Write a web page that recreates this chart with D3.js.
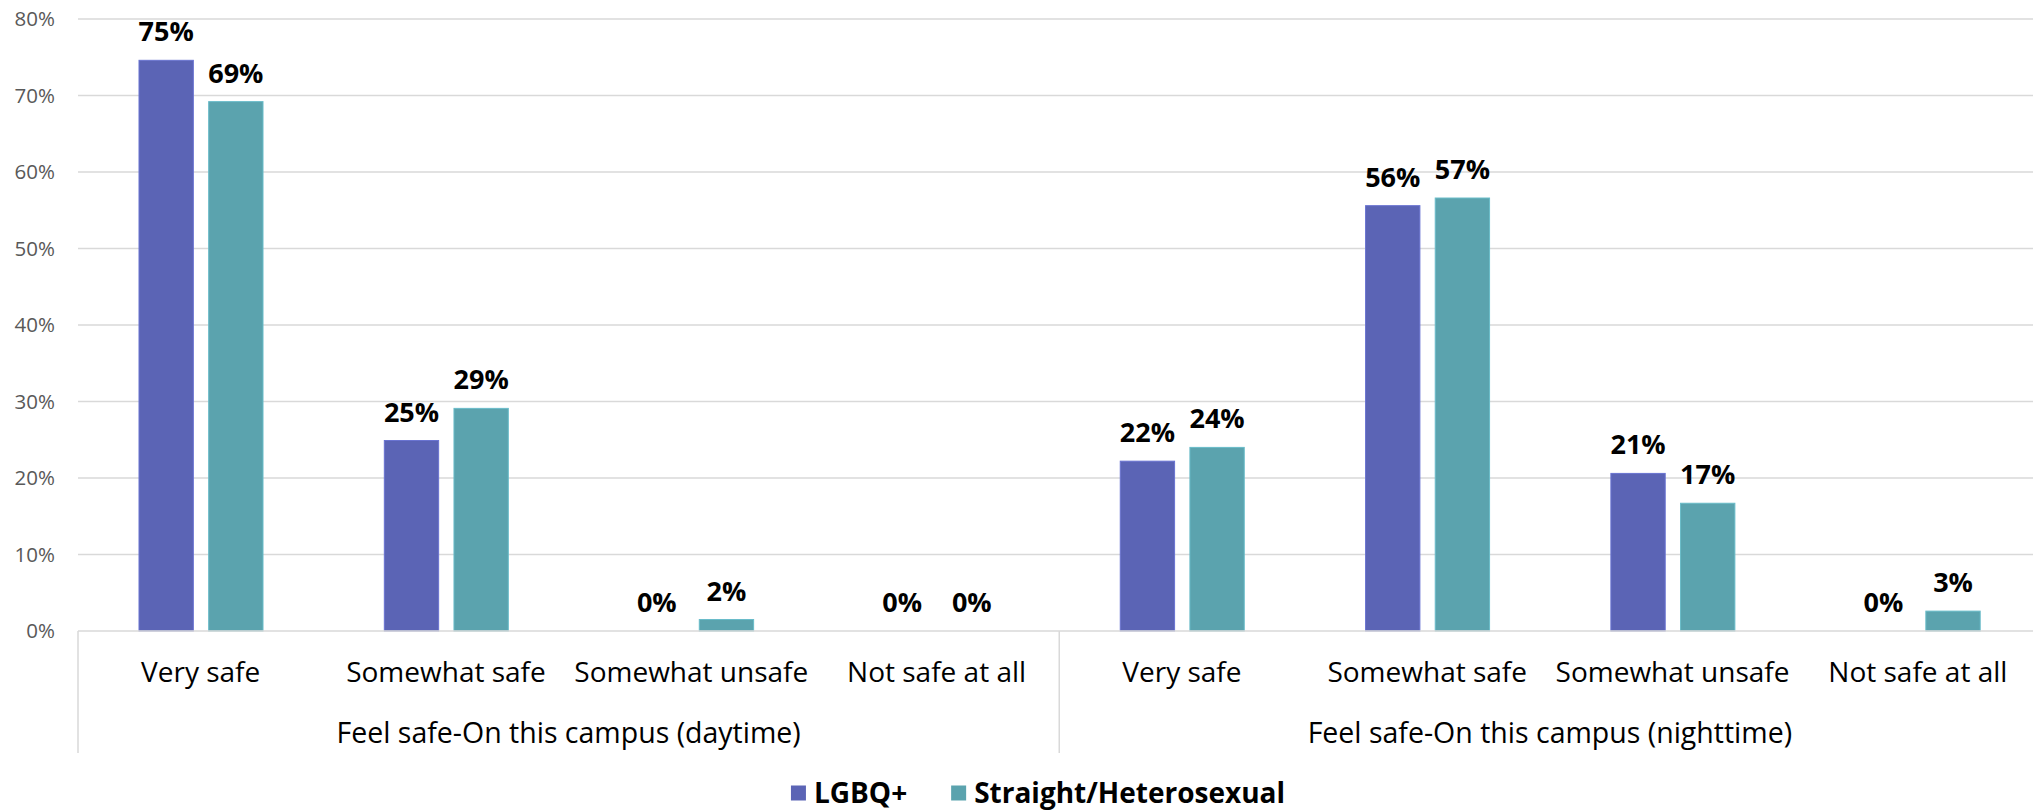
<!DOCTYPE html>
<html>
<head>
<meta charset="utf-8">
<script src="https://cdn.jsdelivr.net/npm/d3@7"></script>
<style>
  html, body { margin: 0; padding: 0; background: #fff; }
  svg { display: block; font-family: "Open Sans", sans-serif; }
</style>
</head>
<body>
<svg id="chart" width="2033" height="812"></svg>
<script>
// ---- data ----
const categories = ["Very safe", "Somewhat safe", "Somewhat unsafe", "Not safe at all",
                    "Very safe", "Somewhat safe", "Somewhat unsafe", "Not safe at all"];
const groups = ["Feel safe-On this campus (daytime)", "Feel safe-On this campus (nighttime)"];
const seriesNames = ["LGBQ+", "Straight/Heterosexual"];
const lgbqValues = [74.6, 24.9, 0, 0, 22.2, 55.6, 20.6, 0];
const straightValues = [69.2, 29.1, 1.5, 0, 24.0, 56.6, 16.7, 2.6];
const yTicks = [0, 10, 20, 30, 40, 50, 60, 70, 80];
const colors = ["#5B64B5", "#5BA3AE"];

// ---- layout ----
const svg = d3.select("#chart");
const plotLeft = 78, plotRight = 2040.5, plotTop = 19, plotBottom = 631;

const x = d3.scaleBand().domain(d3.range(categories.length)).range([plotLeft, plotRight]).padding(0);
const xInner = d3.scaleBand().domain(seriesNames).range([61, 185]).paddingInner(0.22);
const y = d3.scaleLinear().domain([0, 80]).range([plotBottom, plotTop]);

// gridlines
svg.append("g")
  .selectAll("line")
  .data(yTicks.filter(d => d > 0))
  .join("line")
  .attr("x1", plotLeft).attr("x2", 2033)
  .attr("y1", d => y(d)).attr("y2", d => y(d))
  .attr("stroke", "#d9d9d9").attr("stroke-width", 1.5);

// y axis labels
const yAxis = d3.axisLeft(y).tickValues(yTicks).tickFormat(d => d + "%").tickSize(0).tickPadding(0);
const yg = svg.append("g").attr("transform", `translate(55,0)`).call(yAxis);
yg.select(".domain").remove();
yg.selectAll("text")
  .attr("font-family", "Open Sans, sans-serif")
  .attr("font-size", 20.5)
  .attr("fill", "#595959");

// bars
const series = [lgbqValues, straightValues];
series.forEach((vals, si) => {
  const g = svg.append("g");
  g.selectAll("rect")
    .data(vals)
    .join("rect")
    .attr("x", (d, i) => x(i) + xInner(seriesNames[si]))
    .attr("width", xInner.bandwidth())
    .attr("y", d => y(d))
    .attr("height", d => plotBottom - y(d))
    .attr("fill", colors[si])
    .attr("stroke", d3.color(colors[si]).brighter(0.4))
    .attr("stroke-width", 1);
  g.selectAll("text")
    .data(vals)
    .join("text")
    .attr("x", (d, i) => x(i) + xInner(seriesNames[si]) + xInner.bandwidth() / 2)
    .attr("y", d => y(d) - 19)
    .attr("text-anchor", "middle")
    .attr("font-weight", "bold")
    .attr("font-size", 27)
    .attr("fill", "#000")
    .text(d => Math.round(d) + "%");
});

// x axis baseline
svg.append("line")
  .attr("x1", plotLeft).attr("x2", 2033)
  .attr("y1", plotBottom).attr("y2", plotBottom)
  .attr("stroke", "#d9d9d9").attr("stroke-width", 1.5);

// group separators
const sepIdx = [0, 4, 8];
svg.append("g").selectAll("line")
  .data(sepIdx)
  .join("line")
  .attr("x1", d => d < 8 ? x(d) : plotRight).attr("x2", d => d < 8 ? x(d) : plotRight)
  .attr("y1", plotBottom).attr("y2", 753)
  .attr("stroke", "#d9d9d9").attr("stroke-width", 1.5);

// category labels
svg.append("g").selectAll("text")
  .data(categories)
  .join("text")
  .attr("x", (d, i) => x(i) + x.bandwidth() / 2)
  .attr("y", 672)
  .attr("dy", "0.35em")
  .attr("text-anchor", "middle")
  .attr("font-size", 28)
  .attr("fill", "#000")
  .text(d => d);

// group labels
svg.append("g").selectAll("text")
  .data(groups)
  .join("text")
  .attr("x", (d, i) => (x(i * 4) + x(i * 4 + 3) + x.bandwidth()) / 2)
  .attr("y", 733)
  .attr("dy", "0.35em")
  .attr("text-anchor", "middle")
  .attr("font-size", 28.5)
  .attr("fill", "#000")
  .text(d => d);

// legend
const legend = svg.append("g");
const legendItems = legend.selectAll("g")
  .data(seriesNames)
  .join("g");
legendItems.append("rect")
  .attr("width", 15).attr("height", 15)
  .attr("y", -7.5)
  .attr("fill", (d, i) => colors[i]);
legendItems.append("text")
  .attr("x", 23)
  .attr("dy", "0.35em")
  .attr("font-weight", "bold")
  .attr("font-size", 28)
  .attr("fill", "#000")
  .text(d => d);
let lx = 0;
const itemPos = [];
const gapW = 44;
legendItems.each(function () {
  itemPos.push(lx);
  lx += this.getBBox().width + gapW;
});
const totalW = lx - gapW;
const startX = 1038 - totalW / 2;
legendItems.attr("transform", (d, i) => `translate(${startX + itemPos[i]},793)`);
</script>
</body>
</html>
